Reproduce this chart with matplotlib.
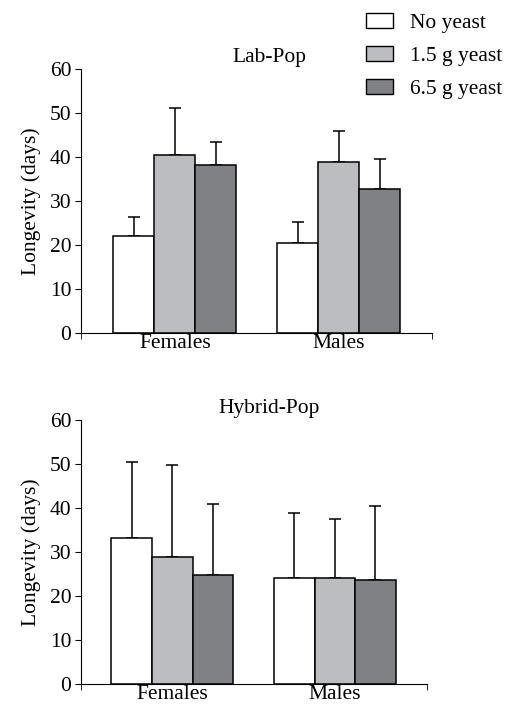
import matplotlib
matplotlib.use("Agg")
import matplotlib.pyplot as plt
from matplotlib.patches import Patch
import numpy as np

# data
groups = ["Females", "Males"]
treatments = ["No yeast", "1.5 g yeast", "6.5 g yeast"]
colors = ["#ffffff", "#bcbdc0", "#808185"]

lab_mean = [[22.1, 20.4], [40.5, 38.8], [38.3, 32.8]]
lab_err = [[4.3, 4.8], [10.7, 7.1], [5.2, 6.7]]

hyb_mean = [[33.2, 24.1], [28.8, 24.1], [24.7, 23.7]]
hyb_err = [[17.3, 14.7], [21.1, 13.4], [16.2, 16.9]]

plt.rcParams["font.family"] = ["Liberation Serif", "DejaVu Serif"]
plt.rcParams["font.size"] = 15.5

fig = plt.figure(figsize=(5.16, 7.07), dpi=100)
ax1 = fig.add_axes([0.157, 0.529, 0.68, 0.373])
ax2 = fig.add_axes([0.157, 0.0325, 0.6705, 0.373])

width = 0.25
x = np.arange(len(groups))


def draw(ax, means, errs, title, xlim, tx):
    for i in range(3):
        pos = x + (i - 1) * width
        ax.bar(pos, means[i], width, color=colors[i], edgecolor="black",
               linewidth=1.1, zorder=2)
        ax.errorbar(pos, means[i], yerr=[np.zeros(2), errs[i]], fmt="none",
                    ecolor="black", elinewidth=1.1, capsize=4.3,
                    capthick=1.1, zorder=1)
    ax.set_xlim(*xlim)
    ax.set_ylim(0, 60)
    ax.set_yticks(range(0, 61, 10))
    ax.set_xticks(x)
    ax.set_xticklabels(groups)
    ax.tick_params(axis="x", length=0, pad=1)
    ax.set_xticks(list(xlim), minor=True)
    ax.tick_params(axis="x", which="minor", length=4, direction="out")
    ax.tick_params(axis="y", length=4, direction="out", pad=3)
    ax.spines["top"].set_visible(False)
    ax.spines["right"].set_visible(False)
    ax.set_ylabel("Longevity (days)", labelpad=6)
    ax.text(tx, 1.045, title, transform=ax.transAxes, ha="center",
            va="center")


draw(ax1, lab_mean, lab_err, "Lab-Pop", (-0.573, 1.567), 0.536)
draw(ax2, hyb_mean, hyb_err, "Hybrid-Pop", (-0.562, 1.567), 0.543)

handles = [Patch(facecolor=c, edgecolor="black", linewidth=1.0) for c in colors]
fig.legend(handles, treatments, loc="upper left",
           bbox_to_anchor=(0.672, 1.009), frameon=False,
           handlelength=1.25, handleheight=0.7, handletextpad=0.8,
           labelspacing=0.6)

fig.savefig("out.png", dpi=100)
